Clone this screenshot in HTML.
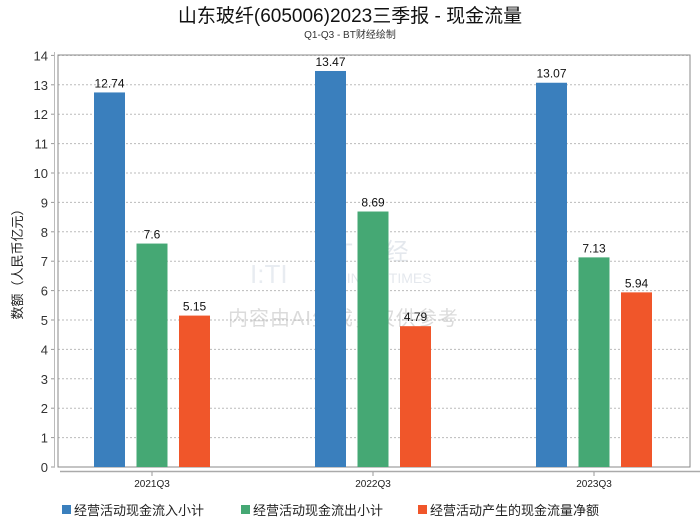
<!DOCTYPE html>
<html><head><meta charset="utf-8"><style>
body{margin:0;background:#fff;}
svg text{font-family:"Liberation Sans","Noto Sans CJK SC",sans-serif;}
</style></head><body>
<svg id="c" width="700" height="524" xmlns="http://www.w3.org/2000/svg">
<text x="350" y="22" text-anchor="middle" font-size="19" fill="#111">山东玻纤(605006)2023三季报 - 现金流量</text>
<text x="350" y="38" text-anchor="middle" font-size="10" fill="#333">Q1-Q3 - BT财经绘制</text>
<g id="wm" opacity="0.9">
<text x="250" y="283" font-size="26" fill="#e6eaf0" font-family="Liberation Serif">I:TI</text>
<text x="318" y="260" font-size="24" fill="#e2e6ec" font-family="Liberation Serif" letter-spacing="4">BT财经</text>
<text x="318" y="283" font-size="14" fill="#e2e6ec" font-family="Liberation Serif">BUSINESSTIMES</text>
<text x="228" y="325" font-size="20" fill="#d8d8d8" letter-spacing="1">内容由AI生成，仅供参考</text>
</g>
<g id="plot"></g>
<g>
<rect x="62" y="505" width="9" height="9" fill="#3a7fbd"/>
<text x="74" y="515" font-size="13" fill="#222">经营活动现金流入小计</text>
<rect x="241" y="505" width="9" height="9" fill="#45a874"/>
<text x="253" y="515" font-size="13" fill="#222">经营活动现金流出小计</text>
<rect x="418" y="505" width="9" height="9" fill="#f0562a"/>
<text x="430" y="515" font-size="13" fill="#222">经营活动产生的现金流量净额</text>
</g>
</svg>
<script>
const categories=["2021Q3","2022Q3","2023Q3"];
const inflow=[12.74,13.47,13.07];
const outflow=[7.6,8.69,7.13];
const net=[5.15,4.79,5.94];
const yTicks=[0,1,2,3,4,5,6,7,8,9,10,11,12,13,14];
const NS="http://www.w3.org/2000/svg";
const g=document.getElementById('plot');
const y=v=>467-v*29.4;
const xc=i=>152+i*221;
function mk(t,a){const e=document.createElementNS(NS,t);for(const k in a)e.setAttribute(k,a[k]);g.appendChild(e);return e;}
yTicks.forEach(t=>{
  if(t>0){const l=mk('line',{x1:58,x2:690,y1:y(t),y2:y(t),stroke:'#bbb','stroke-dasharray':'2,2','stroke-width':1});
  
  }
  const tk=mk('line',{x1:51,x2:55,y1:y(t),y2:y(t),stroke:'#999'});
  
  
  const tx=mk('text',{x:48,y:y(t)+5,'text-anchor':'end','font-size':13,fill:'#333'});
  tx.textContent=t;
  
  
});
const fr=mk('rect',{x:58,y:55,width:632,height:412,fill:'none',stroke:'#888'});


const ya=mk('line',{x1:54.5,x2:54.5,y1:52,y2:467,stroke:'#bbb'});


const yt=mk('text',{x:0,y:0,'text-anchor':'middle','font-size':13,fill:'#222',transform:'translate(22,261) rotate(-90)'});
yt.textContent='数额（人民币亿元）';


const xa=mk('line',{x1:60,x2:700,y1:471.5,y2:471.5,stroke:'#aaa','stroke-width':1.5});


const series=[[inflow,'#3a7fbd','inflow'],[outflow,'#45a874','outflow'],[net,'#f0562a','net']];
categories.forEach((c,i)=>{
  const tk=mk('line',{x1:xc(i),x2:xc(i),y1:472,y2:476,stroke:'#999'});
  
  
  const tl=mk('text',{x:xc(i),y:487,'text-anchor':'middle','font-size':10,fill:'#222'});
  tl.textContent=c;
  
  
  series.forEach((s,j)=>{
    const v=s[0][i];const cx=xc(i)+(j-1)*42.5;
    const r=mk('rect',{x:cx-15.5,y:y(v),width:31,height:467-y(v),fill:s[1]});
    
    
    const t=mk('text',{x:cx,y:y(v)-5,'text-anchor':'middle','font-size':12,fill:'#111'});
    t.textContent=v;
    
    
  });
});
</script>
</body></html>
